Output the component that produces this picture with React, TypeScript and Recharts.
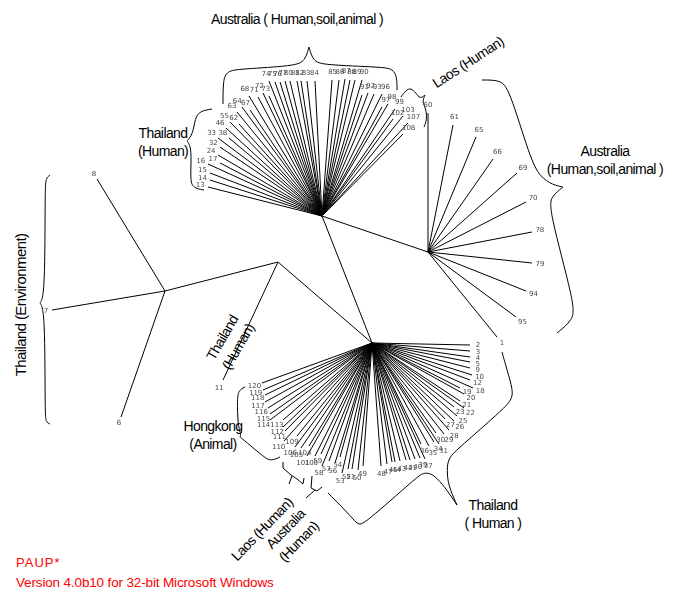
import React from 'react';
import { ComposedChart, Line, Scatter, XAxis, YAxis } from 'recharts';

// Unrooted PAUP* tree, coordinates in the tree layout space (0..680 x 0..592).

const internalNodes = [
  { id: 'A', x: 165, y: 291 },
  { id: 'B', x: 278, y: 262 },
  { id: 'C', x: 372, y: 343 },
  { id: 'D', x: 322, y: 216 },
  { id: 'E', x: 428, y: 252 },
];

const backbone = [
  ['A', 'B'],
  ['B', 'C'],
  ['C', 'D'],
  ['D', 'E'],
];

const envTips = [
  { label: '8', x: 97, y: 179 },
  { label: '7', x: 52, y: 310 },
  { label: '6', x: 121, y: 417 },
];

const midTips = [{ label: '11', x: 223, y: 380 }];

const topFanTips = [
  { label: '13', x: 208, y: 187 }, { label: '14', x: 210, y: 180 }, { label: '15', x: 210, y: 173 },
  { label: '16', x: 208, y: 164 }, { label: '17', x: 220, y: 163 }, { label: '24', x: 218, y: 155 },
  { label: '32', x: 220, y: 147 }, { label: '33', x: 218, y: 138 }, { label: '38', x: 229, y: 138 },
  { label: '46', x: 226, y: 128 }, { label: '55', x: 230, y: 122 }, { label: '62', x: 239, y: 124 },
  { label: '63', x: 237, y: 112 }, { label: '64', x: 242, y: 107 }, { label: '67', x: 250, y: 110 },
  { label: '68', x: 249, y: 96 }, { label: '71', x: 258, y: 97 }, { label: '72', x: 263, y: 93 },
  { label: '73', x: 269, y: 96 }, { label: '74', x: 269, y: 81 }, { label: '75', x: 275, y: 82 },
  { label: '76', x: 280, y: 82 }, { label: '77', x: 285, y: 81 }, { label: '80', x: 290, y: 81 },
  { label: '81', x: 297, y: 81 }, { label: '82', x: 301, y: 81 }, { label: '83', x: 307, y: 81 },
  { label: '84', x: 315, y: 81 }, { label: '85', x: 332, y: 80 }, { label: '86', x: 339, y: 80 },
  { label: '87', x: 345, y: 79 }, { label: '88', x: 350, y: 80 }, { label: '89', x: 355, y: 80 },
  { label: '90', x: 362, y: 80 }, { label: '91', x: 362, y: 95 }, { label: '92', x: 368, y: 93 },
  { label: '93', x: 374, y: 94 }, { label: '96', x: 382, y: 94 }, { label: '97', x: 382, y: 107 },
  { label: '98', x: 388, y: 104 }, { label: '99', x: 395, y: 109 }, { label: '102', x: 393, y: 119 },
  { label: '103', x: 403, y: 116 }, { label: '107', x: 408, y: 123 }, { label: '108', x: 403, y: 134 },
];

const rightFanTips = [
  { label: '60', x: 428, y: 113 }, { label: '61', x: 453, y: 125 }, { label: '65', x: 476, y: 137 },
  { label: '66', x: 493, y: 159 }, { label: '69', x: 517, y: 173 }, { label: '70', x: 526, y: 202 },
  { label: '78', x: 532, y: 232 }, { label: '79', x: 532, y: 263 }, { label: '94', x: 526, y: 291 },
  { label: '95', x: 516, y: 317 }, { label: '1', x: 497, y: 337 },
];

const bottomFanTips = [
  { label: '2', x: 470, y: 345 }, { label: '3', x: 470, y: 351 }, { label: '4', x: 470, y: 357 },
  { label: '5', x: 470, y: 362 }, { label: '9', x: 470, y: 368 }, { label: '10', x: 472, y: 375 },
  { label: '12', x: 470, y: 380 }, { label: '18', x: 473, y: 388 }, { label: '19', x: 460, y: 388 },
  { label: '20', x: 464, y: 394 }, { label: '21', x: 460, y: 401 }, { label: '22', x: 464, y: 408 },
  { label: '23', x: 454, y: 407 }, { label: '25', x: 457, y: 416 }, { label: '26', x: 454, y: 421 },
  { label: '27', x: 445, y: 419 }, { label: '28', x: 449, y: 430 }, { label: '29', x: 444, y: 434 },
  { label: '30', x: 436, y: 433 }, { label: '31', x: 439, y: 444 }, { label: '34', x: 434, y: 442 },
  { label: '35', x: 429, y: 446 }, { label: '36', x: 421, y: 444 }, { label: '37', x: 425, y: 459 },
  { label: '39', x: 420, y: 458 }, { label: '40', x: 415, y: 459 }, { label: '41', x: 410, y: 460 },
  { label: '42', x: 406, y: 460 }, { label: '43', x: 400, y: 461 }, { label: '44', x: 395, y: 462 },
  { label: '45', x: 392, y: 462 }, { label: '47', x: 387, y: 464 }, { label: '48', x: 381, y: 466 },
  { label: '49', x: 363, y: 466 }, { label: '50', x: 358, y: 470 }, { label: '51', x: 352, y: 469 },
  { label: '52', x: 348, y: 469 }, { label: '53', x: 342, y: 473 }, { label: '54', x: 340, y: 457 },
  { label: '56', x: 335, y: 463 }, { label: '57', x: 329, y: 461 }, { label: '58', x: 322, y: 466 },
  { label: '59', x: 321, y: 454 }, { label: '100', x: 315, y: 456 }, { label: '101', x: 307, y: 456 },
  { label: '104', x: 309, y: 446 }, { label: '105', x: 301, y: 448 }, { label: '106', x: 295, y: 447 },
  { label: '109', x: 297, y: 436 }, { label: '110', x: 284, y: 441 }, { label: '111', x: 285, y: 431 },
  { label: '112', x: 283, y: 427 }, { label: '113', x: 283, y: 420 }, { label: '114', x: 270, y: 420 },
  { label: '115', x: 270, y: 414 }, { label: '116', x: 268, y: 408 }, { label: '117', x: 265, y: 402 },
  { label: '118', x: 265, y: 395 }, { label: '119', x: 263, y: 390 }, { label: '120', x: 262, y: 383 },
];

// clade brackets (control points of curly braces)
const braceAusTop = [
  [223, 104], [223, 80], [227, 71], [240, 69], [295, 66], [305, 61], [309, 47], [309, 47], [309, 47],
  [313, 61], [323, 65], [382, 67], [393, 69], [397, 77], [397, 90],
];
const braceThaiTop = [
  [212, 109], [200, 111], [195, 118], [193, 134], [187, 141], [187, 141], [187, 141], [192, 148],
  [190, 180], [193, 188], [204, 190],
];
const braceLaosTop = [
  [401, 97], [406, 90], [411, 88], [416, 93], [420, 99], [425, 95], [425, 95], [425, 95],
  [422, 102], [426, 108], [427, 120], [424, 127],
];
const braceAusRight = [
  [482, 80], [500, 80], [509, 88], [530, 158], [540, 177], [553, 185], [563, 187], [563, 187], [563, 187],
  [552, 196], [548, 207], [575, 305], [573, 320], [557, 333],
];
const braceEnv = [
  [50, 175], [46, 178], [45, 188], [45, 295], [40, 303], [40, 303], [40, 303], [45, 311],
  [45, 415], [46, 422], [50, 424],
];
const braceHongkong = [
  [245, 387], [239, 390], [237, 398], [238, 427], [241, 434], [240, 437], [240, 437], [240, 437],
  [245, 441], [265, 458], [271, 461], [280, 457],
];
const braceThaiBottomA = [
  [502, 352], [507, 370], [513, 390], [512, 400], [500, 412], [460, 447], [448, 458], [447, 470],
  [448, 485], [457, 505],
];
const braceThaiBottomB = [
  [328, 493], [347, 512], [358, 525], [363, 525], [417, 477], [423, 473], [430, 473], [437, 478],
  [447, 490], [457, 505],
];
const braceLaosSmall = [[283, 462], [283, 468], [291, 475], [297, 479], [303, 484], [304, 478]];
const braceLaosSmallStem = [[292, 476], [289, 484]];
const braceAusSmall = [[312, 476], [311, 488], [317, 491], [322, 487]];
const braceAusSmallStem = [[315, 490], [306, 498]];

const cladeTitles = [
  { x: 297, y: 19, lines: ['Australia ( Human,soil,animal )'], rotate: 0 },
  { x: 468, y: 62, lines: ['Laos (Human)'], rotate: -33 },
  { x: 605, y: 160, lines: ['Australia', '(Human,soil,animal )'], rotate: 0 },
  { x: 163, y: 142, lines: ['Thailand', '(Human)'], rotate: 0 },
  { x: 20, y: 305, lines: ['Thailand (Environment)'], rotate: -90, size: 15 },
  { x: 230, y: 342, lines: ['Thailand', '(Human)'], rotate: -60 },
  { x: 213, y: 435, lines: ['Hongkong', '(Animal)'], rotate: 0 },
  { x: 262, y: 529, lines: ['Laos (Human)'], rotate: -46 },
  { x: 292, y: 535, lines: ['Australia', '(Human)'], rotate: -46 },
  { x: 493, y: 514, lines: ['Thailand', '( Human )'], rotate: 0 },
];

const footer = [
  { x: 16, y: 562, text: 'PAUP*', size: 13, spacing: 1 },
  { x: 16, y: 582, text: 'Version 4.0b10 for 32-bit Microsoft Windows', size: 13.5, spacing: -0.15 },
];

const nodeById = Object.fromEntries(internalNodes.map((n) => [n.id, n]));

type Tip = { label: string; x: number; y: number };

function fanSegments(hub: { x: number; y: number }, tips: Tip[]) {
  const out: { x: number; y: number | null }[] = [];
  tips.forEach((t) => {
    out.push({ x: hub.x, y: hub.y }, { x: t.x, y: t.y }, { x: t.x, y: null });
  });
  return out;
}

function tipLabels(hub: { x: number; y: number }, tips: Tip[], off = 8) {
  return tips.map((t) => {
    const dx = t.x - hub.x;
    const dy = t.y - hub.y;
    const len = Math.hypot(dx, dy) || 1;
    return { x: t.x + (dx / len) * off, y: t.y + (dy / len) * off, label: t.label };
  });
}

const backboneData = backbone.flatMap(([a, b]) => [
  { x: nodeById[a].x, y: nodeById[a].y },
  { x: nodeById[b].x, y: nodeById[b].y },
  { x: nodeById[b].x, y: null },
]);

const treeLines = [
  ...backboneData,
  ...fanSegments(nodeById.A, envTips),
  ...fanSegments(nodeById.B, midTips),
  ...fanSegments(nodeById.D, topFanTips),
  ...fanSegments(nodeById.E, rightFanTips),
  ...fanSegments(nodeById.C, bottomFanTips),
];

const labelData = [
  ...tipLabels(nodeById.A, envTips, 6),
  ...tipLabels(nodeById.B, midTips, 9),
  ...tipLabels(nodeById.D, topFanTips),
  ...tipLabels(nodeById.E, rightFanTips, 8),
  ...tipLabels(nodeById.C, bottomFanTips),
];

const toPts = (arr: number[][]) => arr.map(([x, y]) => ({ x, y }));

const smoothBraces = [
  braceAusTop, braceThaiTop, braceLaosTop, braceAusRight, braceEnv, braceHongkong,
  braceThaiBottomA, braceThaiBottomB,
];
const sharpBraces = [braceLaosSmall, braceLaosSmallStem, braceAusSmall, braceAusSmallStem];

const TITLE_FONT = '"Liberation Sans", Arial, sans-serif';

const TipLabel = (props: any) => {
  const { cx, cy, payload } = props;
  return (
    <text x={cx} y={cy} textAnchor="middle" dominantBaseline="central" fontSize={7}
      fontFamily='"DejaVu Sans", sans-serif' fill="#4a4a4a" style={{ filter: 'grayscale(1)' }}>
      {payload.label}
    </text>
  );
};

const TitleShape = (props: any) => {
  const { cx, cy, payload } = props;
  const size = payload.size ?? 14;
  const lh = size * 1.3;
  const n = payload.lines.length;
  return (
    <text transform={`translate(${cx},${cy}) rotate(${payload.rotate})`} textAnchor="middle"
      fontSize={size} fontFamily={TITLE_FONT} letterSpacing={-0.6} fill="#000">
      {payload.lines.map((l: string, i: number) => (
        <tspan key={i} x={0} y={(i - (n - 1) / 2) * lh} dominantBaseline="central">{l}</tspan>
      ))}
    </text>
  );
};

const FooterShape = (props: any) => {
  const { cx, cy, payload } = props;
  return (
    <text x={cx} y={cy} fontSize={payload.size} fontFamily={TITLE_FONT} letterSpacing={payload.spacing}
      fill="#ff0000" dominantBaseline="central">
      {payload.text}
    </text>
  );
};

export default function App() {
  return (
    <div style={{ position: 'absolute', left: 0, top: 0, background: '#fff' }}>
      <ComposedChart width={680} height={592} margin={{ top: 0, right: 0, bottom: 0, left: 0 }}>
        <XAxis type="number" dataKey="x" domain={[0, 680]} allowDataOverflow hide />
        <YAxis type="number" domain={[0, 592]} allowDataOverflow reversed hide />
        <Line data={treeLines} dataKey="y" type="linear" stroke="#000" strokeWidth={1}
          dot={false} activeDot={false} isAnimationActive={false} />
        {smoothBraces.map((b, i) => (
          <Line key={`s${i}`} data={toPts(b)} dataKey="y" type="basis" stroke="#000" strokeWidth={1}
            dot={false} activeDot={false} isAnimationActive={false} />
        ))}
        {sharpBraces.map((b, i) => (
          <Line key={`k${i}`} data={toPts(b)} dataKey="y" type="linear" stroke="#000" strokeWidth={1}
            dot={false} activeDot={false} isAnimationActive={false} />
        ))}
        <Scatter data={labelData} dataKey="y" shape={TipLabel} isAnimationActive={false} />
        <Scatter data={cladeTitles} dataKey="y" shape={TitleShape} isAnimationActive={false} />
        <Scatter data={footer} dataKey="y" shape={FooterShape} isAnimationActive={false} />
      </ComposedChart>
    </div>
  );
}
